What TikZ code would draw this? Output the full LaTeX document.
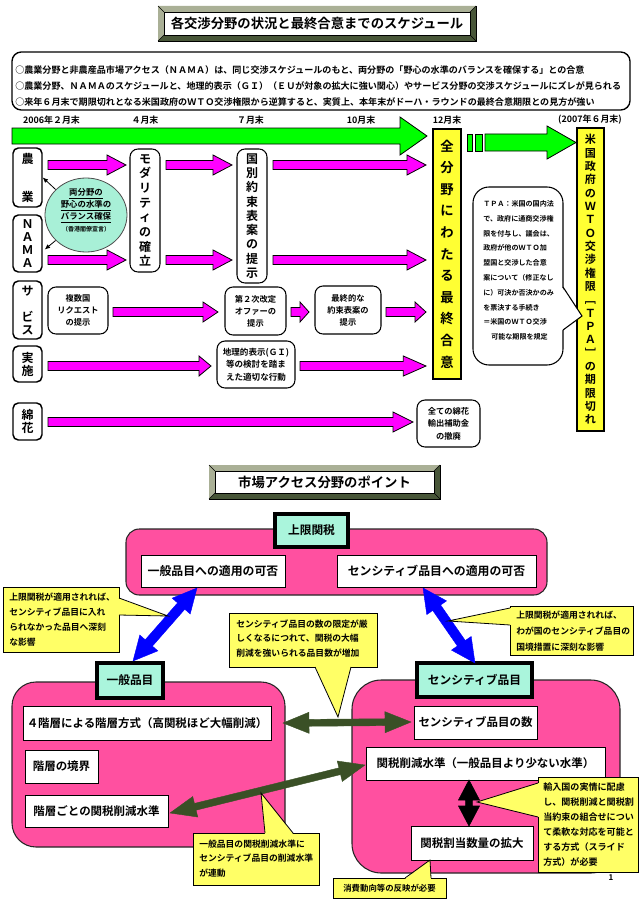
\documentclass[tikz,border=0pt]{standalone}
\usepackage{fontspec}
\setmainfont{Noto Sans CJK JP}[BoldFont={Noto Sans CJK JP Bold}]
\usetikzlibrary{calc,shapes.geometric,arrows.meta}
\definecolor{mag}{RGB}{255,0,255}
\definecolor{grn}{RGB}{0,255,0}
\definecolor{yel}{RGB}{255,255,51}
\definecolor{cyel}{RGB}{255,255,102}
\definecolor{mint}{RGB}{170,245,220}
\definecolor{circf}{RGB}{168,240,215}
\definecolor{pinkb}{RGB}{255,80,160}
\definecolor{dkg}{RGB}{58,80,38}
\definecolor{bevd}{RGB}{72,86,56}
\definecolor{bevl}{RGB}{170,176,150}
\definecolor{blu}{RGB}{0,0,255}
\newcommand\fnt[2]{\bfseries\fontsize{#1}{#2}\selectfont}
\newcommand\bx[7]{\node[#6,minimum width={((#4)-(#2))*0.75pt},minimum height={((#5)-(#3))*0.75pt},inner sep=0pt] (#1) at ({((#2)+(#4))/2},{((#3)+(#5))/2}) {#7};}
% single block arrow: A, B, half body, half head, head length, style
\newcommand\sarr[6]{\coordinate (hb) at ($(#2)!#5!(#1)$);
 \filldraw[#6] ($(#1)!#3!90:(#2)$) -- ($(hb)!#3!-90:(#1)$) -- ($(hb)!#4!-90:(#1)$) -- (#2) -- ($(hb)!#4!90:(#1)$) -- ($(hb)!#3!90:(#1)$) -- ($(#1)!#3!-90:(#2)$) -- cycle;}
% double block arrow
\newcommand\darr[6]{\coordinate (ha) at ($(#1)!#5!(#2)$);\coordinate (hb) at ($(#2)!#5!(#1)$);
 \filldraw[#6] (#1) -- ($(ha)!#4!90:(#2)$) -- ($(ha)!#3!90:(#2)$) -- ($(hb)!#3!-90:(#1)$) -- ($(hb)!#4!-90:(#1)$) -- (#2) -- ($(hb)!#4!90:(#1)$) -- ($(hb)!#3!90:(#1)$) -- ($(ha)!#3!-90:(#2)$) -- ($(ha)!#4!-90:(#2)$) -- cycle;}
\newcommand\harr[5]{\coordinate (#1s) at (#2,#4);\coordinate (#1e) at (#3,#4);\sarr{#1s}{#1e}{3.4pt}{7.5pt}{#5}{marr}}
\newcommand\bevtitle[6]{%
 \filldraw[fill=bevd,draw=black,line width=0.5pt] (#2,#3) rectangle (#4,#5);
 \fill[bevl] (#2,#3) -- (#4,#3) -- ({#4-6},{#3+6}) -- ({#2+6},{#3+6}) -- ({#2+6},{#5-6}) -- (#2,#5) -- cycle;
 \draw[black,line width=0.4pt] (#2,#3) -- ({#2+6},{#3+6}) (#4,#3) -- ({#4-6},{#3+6}) (#2,#5) -- ({#2+6},{#5-6}) (#4,#5) -- ({#4-6},{#5-6});
 \bx{#1}{#2+6}{#3+6}{#4-6}{#5-6}{draw=black,line width=0.5pt,fill=white,font=\fnt{10}{12}}{#6}}
\newcommand\lblbox[6]{\fill[black!70] ({#2+2},{#3+2}) rectangle ({#4+2},{#5+2});\bx{#1}{#2}{#3}{#4}{#5}{lbl}{#6}}
\tikzset{
 catbox/.style={draw=black,line width=1.1pt,fill=white,rounded corners=4pt,align=center},
 tbox/.style={draw=black,line width=0.8pt,fill=white,rounded corners=6pt,align=center},
 ybox/.style={draw=black,line width=1.4pt,fill=yel,align=center},
 marr/.style={fill=mag,draw=black,line width=0.6pt},
 garr/.style={fill=grn,draw=black,line width=0.6pt},
 pinkbox/.style={fill=pinkb,draw=black!85,line width=0.8pt},
 lbl/.style={draw=black,line width=2.4pt,fill=mint,font=\fnt{8.8}{10}},
 wbox/.style={draw=black,line width=0.7pt,fill=white,font=\fnt{8.6}{10}},
 callout/.style={fill=cyel,draw=black,line width=0.6pt},
 ctext/.style={anchor=west,align=left,inner sep=0pt},
}
\begin{document}
\begin{tikzpicture}[x=0.75pt,y=-0.75pt]
\useasboundingbox (0,0) rectangle (640,906);
\fill[white] (0,0) rectangle (640,906);
% ---------- top section ----------
\bevtitle{t1}{158}{6}{476}{41}{各交渉分野の状況と最終合意までのスケジュール}
\bx{hdr}{12}{52}{630}{110}{draw=black,line width=1pt,rounded corners=7pt}{}
\node[ctext,font=\fnt{6.8}{8}] (h1) at (15,70) {○農業分野と非農産品市場アクセス（ＮＡＭＡ）は、同じ交渉スケジュールのもと、両分野の「野心の水準のバランスを確保する」との合意};
\node[ctext,font=\fnt{6.8}{8}] (h2) at (15,86) {○農業分野、ＮＡＭＡのスケジュールと、地理的表示（ＧＩ）（ＥＵが対象の拡大に強い関心）やサービス分野の交渉スケジュールにズレが見られる};
\node[ctext,font=\fnt{6.8}{8}] (h3) at (15,102) {○来年６月末で期限切れとなる米国政府のＷＴＯ交渉権限から逆算すると、実質上、本年末がドーハ・ラウンドの最終合意期限との見方が強い};
% dates
\node[font=\fnt{6.7}{8}] (d1) at (51.5,120) {2006年２月末};
\node[font=\fnt{6.7}{8}] (d2) at (145,120) {４月末};
\node[font=\fnt{6.7}{8}] (d3) at (250.5,120) {７月末};
\node[font=\fnt{6.7}{8}] (d4) at (361,120) {10月末};
\node[font=\fnt{6.7}{8}] (d5) at (447,120) {12月末};
\node[font=\fnt{6.7}{8}] (d6) at (590,120) {(2007年６月末)};
% green arrows
\coordinate (g1s) at (12,136); \coordinate (g1e) at (427,136);
\sarr{g1s}{g1e}{6pt}{14.25pt}{20.25pt}{garr}
\filldraw[garr] (467,134) rectangle (472,151);
\filldraw[garr] (475,134) rectangle (482,151);
\coordinate (g2s) at (485,142.5); \coordinate (g2e) at (576,142.5);
\sarr{g2s}{g2e}{6.4pt}{12.4pt}{21.75pt}{garr}
% category boxes
\bx{nogyo}{13}{148}{42}{207}{catbox,font=\fnt{9}{28.5}}{農\\業}
\bx{nama}{13}{215}{42}{272}{catbox,font=\fnt{9}{9.75}}{Ｎ\\Ａ\\Ｍ\\Ａ}
\bx{serv}{13}{281}{42}{339}{catbox,font=\fnt{9}{9.75}}{サ\\\mbox{}\\ビ\\ス}
\bx{jisshi}{13}{346}{42}{382}{catbox,font=\fnt{9}{9.75}}{実\\施}
\bx{menka}{13}{403}{42}{440}{catbox,font=\fnt{9}{9.75}}{綿\\花}
% magenta arrows
\harr{a1}{48}{126}{165}{14.25pt}
\harr{a2}{166}{232}{165}{14.25pt}
\harr{a3}{273}{426}{165}{14.25pt}
\harr{b1}{48}{126}{260}{14.25pt}
\harr{b2}{166}{232}{260}{14.25pt}
\harr{b3}{273}{426}{260}{14.25pt}
\harr{s1}{113}{218}{312}{11.25pt}
\harr{s2}{291}{309}{312}{6.75pt}
\harr{s3}{386}{426}{312}{8.25pt}
\harr{j1}{48}{211}{366}{9pt}
\harr{j2}{300}{426}{366}{17pt}
\harr{m1}{48}{413}{422}{15pt}
% circle
\node[ellipse,draw=black!70,line width=0.6pt,fill=circf,minimum width=61.5pt,minimum height=55.5pt,inner sep=0pt] (circ) at (86,215) {};
\node[align=center,font=\fnt{6.3}{9},inner sep=0pt] (circt) at (86,210) {\underline{両分野の}\\\underline{野心の水準の}\\\underline{バランス確保}\\{\fontsize{4.5}{9}\selectfont（香港閣僚宣言）}};
\draw[-{Latex[length=4pt,width=3.5pt]},line width=0.6pt] (circ.140) -- (nogyo.east);
\draw[-{Latex[length=4pt,width=3.5pt]},line width=0.6pt] (circ.220) -- ($(nama.east)+(2,6)$);
% timeline boxes
\bx{modal}{130}{149}{160}{272}{tbox,font=\fnt{9}{11}}{モ\\ダ\\リ\\テ\\ィ\\の\\確\\立}
\bx{kokub}{237}{149}{267}{283}{tbox,font=\fnt{9}{10.7}}{国\\別\\約\\束\\表\\案\\の\\提\\示}
\bx{fukusu}{48}{287}{108}{334}{tbox,font=\fnt{6.2}{9}}{複数国\\リクエスト\\の提示}
\bx{dai2}{225}{287}{286}{335}{tbox,font=\fnt{6.2}{9}}{第２次改定\\オファーの\\提示}
\bx{saishu}{315}{286}{381}{334}{tbox,font=\fnt{6.2}{9}}{最終的な\\約束表案の\\提示}
\bx{chiri}{217}{341}{295}{388}{tbox,font=\fnt{6.4}{9.4}}{地理的表示(ＧＩ)\\等の検討を踏ま\\えた適切な行動}
\bx{menkab}{417}{400}{480}{447}{tbox,font=\fnt{6.2}{9.4}}{全ての綿花\\輸出補助金\\の撤廃}
\bx{zen}{433}{129}{461}{379}{ybox,font=\fnt{10}{16.2}}{全\\分\\野\\に\\わ\\た\\る\\最\\終\\合\\意}
\bx{bei}{577}{128}{604}{431}{ybox,font=\fnt{8.3}{10}}{米\\国\\政\\府\\の\\Ｗ\\Ｔ\\Ｏ\\交\\渉\\権\\限\\﹇\\Ｔ\\Ｐ\\Ａ\\﹈\\の\\期\\限\\切\\れ}
% TPA callout
\draw[fill=white,line width=0.8pt,rounded corners=12pt] (473,187) rectangle (563,365);
\fill[white] (561,286) -- (582,316) -- (561,331) -- cycle;
\draw[line width=0.8pt] (563,287) -- (582,316) -- (563,330);
\node[ctext,font=\fnt{5.3}{11.1}] (tpa) at (483,270.5) {ＴＰＡ：米国の国内法\\で、政府に通商交渉権\\限を付与し、議会は、\\政府が他のＷＴＯ加\\盟国と交渉した合意\\案について（修正なし\\に）可決か否決かのみ\\を票決する手続き\\＝米国のＷＴＯ交渉\\\hspace{6pt}可能な期限を規定};
% ---------- bottom section ----------
\bevtitle{t2}{209}{465}{440}{499}{市場アクセス分野のポイント}
\bx{pk1}{126}{529}{547}{595}{pinkbox,rounded corners=10pt}{}
\bx{pk2}{12}{682}{285}{847}{pinkbox,rounded corners=18pt}{}
\bx{pk3}{352}{680}{620}{873}{pinkbox,rounded corners=22pt}{}
\lblbox{jogen}{275}{514}{348}{547}{上限関税}
\lblbox{ippan}{97}{663}{163}{698}{一般品目}
\lblbox{sens}{417}{663}{532}{697}{センシティブ品目}
\bx{tek1}{141}{555}{285}{587}{wbox,font=\fnt{8.9}{10}}{一般品目への適用の可否}
\bx{tek2}{337}{555}{536}{587}{wbox,font=\fnt{8.9}{10}}{センシティブ品目への適用の可否}
\bx{kai4}{23}{706}{271}{740}{wbox}{４階層による階層方式（高関税ほど大幅削減）}
\bx{kyokai}{25}{750}{98}{783}{wbox}{階層の境界}
\bx{kaigoto}{25}{795}{168}{827}{wbox}{階層ごとの関税削減水準}
\bx{senskazu}{414}{706}{537}{739}{wbox}{センシティブ品目の数}
\bx{kanzei}{366}{747}{605}{780}{wbox}{関税削減水準（一般品目より少ない水準）}
\bx{wariate}{411}{826}{533}{860}{wbox}{関税割当数量の拡大}
% arrows
\coordinate (bl1a) at (197,588); \coordinate (bl1b) at (133,661);
\darr{bl1a}{bl1b}{3.6pt}{9pt}{18pt}{fill=blu,draw=blu,line width=0.3pt}
\coordinate (bl2a) at (423,588); \coordinate (bl2b) at (475,663);
\darr{bl2a}{bl2b}{3.6pt}{9pt}{18pt}{fill=blu,draw=blu,line width=0.3pt}
\coordinate (dg1a) at (283,723); \coordinate (dg1b) at (411,722);
\darr{dg1a}{dg1b}{2.6pt}{7.9pt}{19.5pt}{fill=dkg,draw=dkg,line width=0.3pt}
\coordinate (dg2a) at (170,813); \coordinate (dg2b) at (365,765);
\darr{dg2a}{dg2b}{2.6pt}{7.9pt}{19.5pt}{fill=dkg,draw=dkg,line width=0.3pt}
\coordinate (bk1) at (469,780); \coordinate (bk2) at (469,826);
\darr{bk1}{bk2}{2.6pt}{7.9pt}{15pt}{fill=black}
% callouts
\bx{c1}{3}{587}{119}{652}{callout}{}
\fill[cyel] (118,598) -- (168,616) -- (118,615) -- cycle;
\draw[line width=0.6pt] (119,598) -- (168,616) -- (119,615);
\node[ctext,font=\fnt{6.6}{11.25}] (c1t) at (9,619.5) {上限関税が適用されれば、\\センシティブ品目に入れ\\られなかった品目へ深刻\\な影響};
\bx{c2}{510}{606}{633}{655}{callout}{}
\fill[cyel] (511,608) -- (448,621) -- (511,625) -- cycle;
\draw[line width=0.6pt] (510,608) -- (448,621) -- (510,625);
\node[ctext,font=\fnt{6.6}{12}] (c2t) at (516,631) {上限関税が適用されれば、\\わが国のセンシティブ品目の\\国境措置に深刻な影響};
\bx{c3}{229}{613}{377}{667}{callout}{}
\fill[cyel] (315,666) -- (338,717) -- (351,666) -- cycle;
\draw[line width=0.6pt] (315,667) -- (338,717) -- (351,667);
\node[ctext,font=\fnt{6.6}{10.9}] (c3t) at (236,638.5) {センシティブ品目の数の限定が厳\\しくなるにつれて、関税の大幅\\削減を強いられる品目数が増加};
\bx{c4}{193}{833}{319}{885}{callout}{}
\fill[cyel] (265,834) -- (261,793) -- (293,834) -- cycle;
\draw[line width=0.6pt] (265,833) -- (261,793) -- (293,833);
\node[ctext,font=\fnt{6.6}{10.9}] (c4t) at (199,858.5) {一般品目の関税削減水準に\\センシティブ品目の削減水準\\が連動};
\bx{c5}{538}{777}{638}{872}{callout}{}
\fill[cyel] (539,783) -- (477,802) -- (539,817) -- cycle;
\draw[line width=0.6pt] (538,783) -- (477,802) -- (538,817);
\node[ctext,font=\fnt{6.8}{11.25}] (c5t) at (543,824.5) {輸入国の実情に配慮\\し、関税削減と関税割\\当約束の組合せについ\\て柔軟な対応を可能と\\する方式（スライド\\方式）が必要};
\bx{c6}{333}{878}{446}{898}{callout,font=\fnt{6.3}{8}}{消費動向等の反映が必要}
\fill[cyel] (405,879) -- (430,860) -- (431,879) -- cycle;
\draw[line width=0.6pt] (405,878) -- (430,860) -- (431,878);
\node[font=\fnt{6}{7}] (pg) at (611,878) {1};
\end{tikzpicture}
\end{document}
